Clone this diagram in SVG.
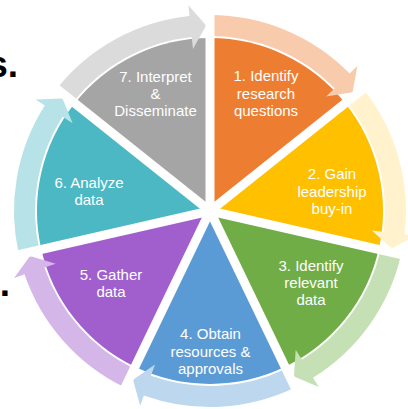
<svg xmlns="http://www.w3.org/2000/svg" xmlns:xlink="http://www.w3.org/1999/xlink" width="408" height="409" viewBox="0 0 408 409">
  <style>
    .lbl { font-family: "Liberation Sans", Arial, sans-serif; font-size: 15px; fill: #ffffff; text-anchor: middle; }
    .title { font-family: "Liberation Sans", Arial, sans-serif; font-size: 37px; font-weight: bold; fill: #000000; text-anchor: end; }
    .sep { stroke: #ffffff; stroke-width: 9; }
  </style>
  <defs>
    <!-- one pie slice of 360/7 degrees, starting straight up, centre (210,211) -->
    <path id="wedge" d="M210,211 L210,38 A173,173 0 0 1 345.26,103.14 Z"/>
    <!-- curved arrow hugging the outside of one slice -->
    <path id="arc-arrow" d="M210,15 A196,196 0 0 1 349.63,73.45 L357.46,65.73 L352.58,92.33 L326.12,96.61 L334.67,88.19 A175,175 0 0 0 210,36 Z"/>
    <line id="sep-line" x1="210" y1="211" x2="210" y2="8"/>
  </defs>

  <rect width="408" height="409" fill="#ffffff"/>

  <!-- cut-off heading text at the left edge -->
  <text class="title" x="18" y="77">s.</text>
  <text class="title" x="10" y="296">.</text>

  <g id="step1">
    <use xlink:href="#wedge" fill="#ED7D31"/>
    <text class="lbl" x="266" y="81">1. Identify</text>
    <text class="lbl" x="266" y="98.5">research</text>
    <text class="lbl" x="266" y="116">questions</text>
  </g>
  <g id="step2">
    <use xlink:href="#wedge" fill="#FFC000" transform="rotate(51.4286 210 211)"/>
    <text class="lbl" x="332" y="179">2. Gain</text>
    <text class="lbl" x="332" y="196.5">leadership</text>
    <text class="lbl" x="332" y="213.5">buy-in</text>
  </g>
  <g id="step3">
    <use xlink:href="#wedge" fill="#70AD47" transform="rotate(102.8571 210 211)"/>
    <text class="lbl" x="311" y="270.5">3. Identify</text>
    <text class="lbl" x="311" y="288">relevant</text>
    <text class="lbl" x="311" y="305">data</text>
  </g>
  <g id="step4">
    <use xlink:href="#wedge" fill="#5B9BD5" transform="rotate(154.2857 210 211)"/>
    <text class="lbl" x="210.5" y="339">4. Obtain</text>
    <text class="lbl" x="210.5" y="356.5">resources &amp;</text>
    <text class="lbl" x="210.5" y="374">approvals</text>
  </g>
  <g id="step5">
    <use xlink:href="#wedge" fill="#A05FCD" transform="rotate(205.7143 210 211)"/>
    <text class="lbl" x="111" y="280">5. Gather</text>
    <text class="lbl" x="111" y="297">data</text>
  </g>
  <g id="step6">
    <use xlink:href="#wedge" fill="#4BB8C4" transform="rotate(257.1429 210 211)"/>
    <text class="lbl" x="89" y="188">6. Analyze</text>
    <text class="lbl" x="89" y="205">data</text>
  </g>
  <g id="step7">
    <use xlink:href="#wedge" fill="#A5A5A5" transform="rotate(308.5714 210 211)"/>
    <text class="lbl" x="155.5" y="81.5">7. Interpret</text>
    <text class="lbl" x="155.5" y="98.5">&amp;</text>
    <text class="lbl" x="155.5" y="116">Disseminate</text>
  </g>

  <g id="connectors">
    <use xlink:href="#arc-arrow" fill="#F8CBAD"/>
    <use xlink:href="#arc-arrow" fill="#FFF2CC" transform="rotate(51.4286 210 211)"/>
    <use xlink:href="#arc-arrow" fill="#C5E0B4" transform="rotate(102.8571 210 211)"/>
    <use xlink:href="#arc-arrow" fill="#BDD7EE" transform="rotate(154.2857 210 211)"/>
    <use xlink:href="#arc-arrow" fill="#D4B6E8" transform="rotate(205.7143 210 211)"/>
    <use xlink:href="#arc-arrow" fill="#B7E2E7" transform="rotate(257.1429 210 211)"/>
    <use xlink:href="#arc-arrow" fill="#DBDBDB" transform="rotate(308.5714 210 211)"/>
  </g>

  <!-- white gaps between the slices -->
  <g id="separators">
    <use xlink:href="#sep-line" class="sep"/>
    <use xlink:href="#sep-line" class="sep" transform="rotate(51.4286 210 211)"/>
    <use xlink:href="#sep-line" class="sep" transform="rotate(102.8571 210 211)"/>
    <use xlink:href="#sep-line" class="sep" transform="rotate(154.2857 210 211)"/>
    <use xlink:href="#sep-line" class="sep" transform="rotate(205.7143 210 211)"/>
    <use xlink:href="#sep-line" class="sep" transform="rotate(257.1429 210 211)"/>
    <use xlink:href="#sep-line" class="sep" transform="rotate(308.5714 210 211)"/>
  </g>
</svg>
